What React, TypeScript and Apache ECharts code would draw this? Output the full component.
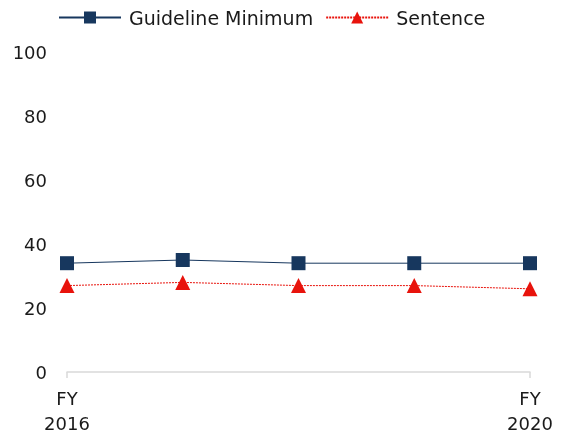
import React, { useEffect, useRef } from "react";
import * as echarts from "echarts";

const categories = ["FY\n2016", "FY\n2017", "FY\n2018", "FY\n2019", "FY\n2020"];
const guidelineMinimum = [34, 35, 34, 34, 34];
const sentence = [27, 28, 27, 27, 26];
const yTicks = { min: 0, max: 100, interval: 20 };

const FONT = "'DejaVu Sans', sans-serif";

export default function App() {
  const ref = useRef<HTMLDivElement>(null);
  useEffect(() => {
    if (!ref.current) return;
    const chart = echarts.init(ref.current, null, { renderer: "svg" });
    chart.setOption({
      animation: false,
      legend: {
        top: 8,
        left: 58,
        padding: 0,
        itemWidth: 62,
        itemHeight: 15,
        itemGap: 12,
        textStyle: { fontFamily: FONT, fontSize: 19, color: "#1a1a1a", padding: [0, 0, 0, 3] },
        data: ["Guideline Minimum", "Sentence"],
      },
      grid: { left: 67, right: 40, top: 52, bottom: 64, containLabel: false },
      xAxis: {
        type: "category",
        data: categories,
        boundaryGap: false,
        axisLine: { lineStyle: { color: "#d9d9d9", width: 1.5 } },
        axisTick: { show: true, length: 6, lineStyle: { color: "#d9d9d9", width: 1.5 } },
        axisLabel: {
          interval: (i: number) => i === 0 || i === categories.length - 1,
          fontFamily: FONT,
          fontSize: 18,
          color: "#1a1a1a",
          lineHeight: 25,
          margin: 14,
        },
        splitLine: { show: false },
      },
      yAxis: {
        type: "value",
        min: yTicks.min,
        max: yTicks.max,
        interval: yTicks.interval,
        axisLine: { show: false },
        axisTick: { show: false },
        splitLine: { show: false },
        axisLabel: { fontFamily: FONT, fontSize: 18, color: "#1a1a1a", margin: 20 },
      },
      series: [
        {
          name: "Guideline Minimum",
          type: "line",
          data: guidelineMinimum,
          symbol: "rect",
          symbolSize: 14,
          itemStyle: { color: "#17375e" },
          lineStyle: { color: "#17375e", width: 1 },
        },
        {
          name: "Sentence",
          type: "line",
          data: sentence,
          symbol: "triangle",
          symbolSize: 15,
          itemStyle: { color: "#e8130c" },
          lineStyle: { color: "#e8130c", width: 1, type: [2, 1] },
        },
      ],
    });
    return () => chart.dispose();
  }, []);
  return <div ref={ref} style={{ position: "fixed", left: 0, top: 0, width: 570, height: 436 }} />;
}
